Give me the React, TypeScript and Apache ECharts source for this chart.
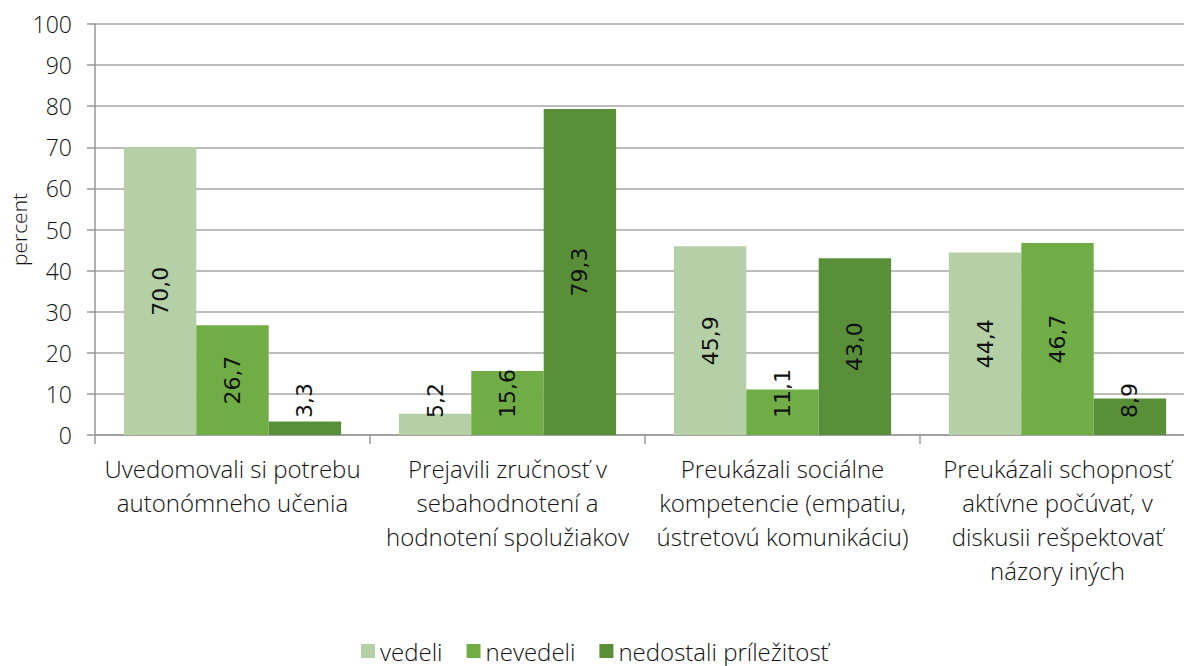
import React, { useEffect, useRef } from "react";
import * as echarts from "echarts";

const categories = [
  "Uvedomovali si potrebu\nautonómneho učenia",
  "Prejavili zručnosť v\nsebahodnotení a\nhodnotení spolužiakov",
  "Preukázali sociálne\nkompetencie (empatiu,\nústretovú komunikáciu)",
  "Preukázali schopnosť\naktívne počúvať, v\ndiskusii rešpektovať\nnázory iných",
];
const seriesNames = ["vedeli", "nevedeli", "nedostali príležitosť"];
const vedeli = [70.0, 5.2, 45.9, 44.4];
const nevedeli = [26.7, 15.6, 11.1, 46.7];
const nedostali = [3.3, 79.3, 43.0, 8.9];
const colors = ["#b5cfa7", "#70ad47", "#5a8f3a"];

const axisFont = "'Open Sans', 'Noto Sans', sans-serif";
const labelFont = "'DejaVu Sans', Verdana, sans-serif";

function makeData(values: number[]) {
  return values.map((v) => {
    const small = v < 20;
    return {
      value: v,
      label: small
        ? { position: "insideBottom", distance: 17, align: "left", verticalAlign: "middle" }
        : { position: "inside", align: "center", verticalAlign: "middle" },
    };
  });
}

export default function App() {
  const ref = useRef<HTMLDivElement>(null);
  useEffect(() => {
    if (!ref.current) return;
    const chart = echarts.init(ref.current, undefined, { renderer: "svg" });
    const seriesData = [vedeli, nevedeli, nedostali];
    chart.setOption({
      animation: false,
      color: colors,
      grid: {
        left: 95,
        top: 24,
        width: 1100,
        height: 411,
        containLabel: false,
        outerBoundsMode: "none",
      },
      legend: {
        top: 634,
        left: 356,
        itemWidth: 14,
        itemHeight: 14,
        itemGap: 24,
        icon: "rect",
        textStyle: { fontFamily: axisFont, fontSize: 24, color: "#111", fontWeight: 300 },
        data: seriesNames,
      },
      xAxis: {
        type: "category",
        data: categories,
        axisLine: { lineStyle: { color: "#999", width: 1.5 } },
        axisTick: { show: true, length: 9, lineStyle: { color: "#999", width: 1.5 } },
        axisLabel: {
          interval: 0,
          margin: 16,
          fontFamily: axisFont,
          fontWeight: 300,
          fontSize: 24,
          lineHeight: 34,
          color: "#111",
        },
      },
      yAxis: {
        type: "value",
        min: 0,
        max: 100,
        interval: 10,
        name: "percent",
        nameLocation: "middle",
        nameGap: 66,
        nameMoveOverlap: false,
        nameTextStyle: { fontFamily: axisFont, fontWeight: 300, fontSize: 21, color: "#111" },
        axisLine: { show: true, lineStyle: { color: "#999", width: 1.5 } },
        axisTick: { show: true, length: 8, lineStyle: { color: "#999", width: 1.5 } },
        axisLabel: { margin: 23, fontFamily: axisFont, fontWeight: 300, fontSize: 23, color: "#111" },
        splitLine: { lineStyle: { color: "#a6a6a6", width: 1.5 } },
      },
      series: seriesNames.map((name, i) => ({
        name,
        type: "bar",
        barGap: "0%",
        barCategoryGap: "21%",
        data: makeData(seriesData[i]),
        label: {
          show: true,
          rotate: 90,
          fontFamily: labelFont,
          fontSize: 22,
          color: "#111",
          formatter: (p: any) => p.value.toFixed(1).replace(".", ","),
        },
      })),
    });
    return () => chart.dispose();
  }, []);
  return (
    <div
      ref={ref}
      style={{ position: "fixed", left: 0, top: 0, width: 1184, height: 666, background: "#fff" }}
    />
  );
}
